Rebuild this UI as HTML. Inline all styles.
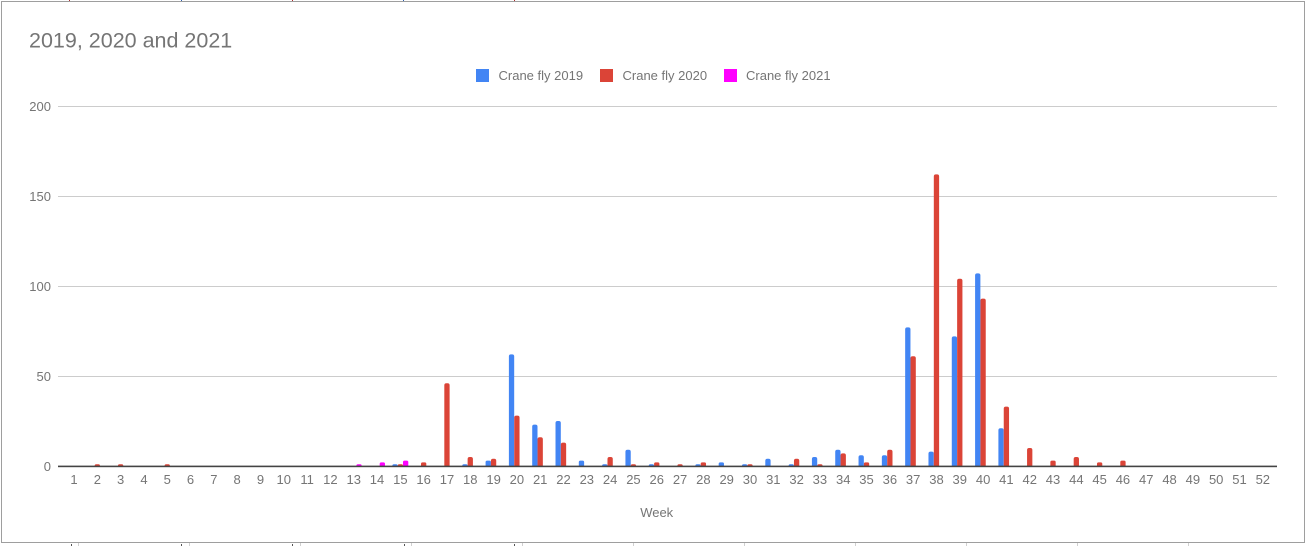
<!DOCTYPE html>
<html>
<head>
<meta charset="utf-8">
<style>
  html, body { margin: 0; padding: 0; background: #ffffff; }
  body { width: 1306px; height: 546px; overflow: hidden; }
  svg { display: block; }
  text { font-family: "Liberation Sans", Arial, sans-serif; }
</style>
</head>
<body>
<svg width="1306" height="546" viewBox="0 0 1306 546" xmlns="http://www.w3.org/2000/svg">
  <defs>
    <clipPath id="plotclip">
      <rect x="0" y="0" width="1306" height="466"/>
    </clipPath>
  </defs>
  <rect x="0" y="0" width="1306" height="546" fill="#ffffff"/>

  <!-- tiny marks at top edge -->
  <g stroke-width="1">
    <line x1="69.5" y1="0" x2="69.5" y2="1.5" stroke="#b03030"/>
    <line x1="181.5" y1="0" x2="181.5" y2="1.5" stroke="#3060b0"/>
    <line x1="292.5" y1="0" x2="292.5" y2="1.5" stroke="#b03030"/>
    <line x1="403.5" y1="0" x2="403.5" y2="1.5" stroke="#3060b0"/>
    <line x1="514.5" y1="0" x2="514.5" y2="1.5" stroke="#b03030"/>
  </g>

  <!-- frame -->
  <rect x="1.5" y="1.5" width="1303" height="541" fill="none" stroke="#9e9e9e" stroke-width="1"/>
  <!-- tiny marks below frame -->
  <g stroke="#d0d0d0" stroke-width="1">
    <line x1="78.5" y1="543" x2="78.5" y2="546"/>
    <line x1="189.5" y1="543" x2="189.5" y2="546"/>
    <line x1="300.5" y1="543" x2="300.5" y2="546"/>
    <line x1="411.5" y1="543" x2="411.5" y2="546"/>
    <line x1="522.5" y1="543" x2="522.5" y2="546"/>
    <line x1="633.5" y1="543" x2="633.5" y2="546"/>
    <line x1="744.5" y1="543" x2="744.5" y2="546"/>
    <line x1="855.5" y1="543" x2="855.5" y2="546"/>
    <line x1="966.5" y1="543" x2="966.5" y2="546"/>
    <line x1="1077.5" y1="543" x2="1077.5" y2="546"/>
    <line x1="1188.5" y1="543" x2="1188.5" y2="546"/>
  </g>
  <g stroke="#555555" stroke-width="1">
    <line x1="71.5" y1="544" x2="71.5" y2="546"/>
    <line x1="181.5" y1="544" x2="181.5" y2="546"/>
    <line x1="292.5" y1="544" x2="292.5" y2="546"/>
    <line x1="404.5" y1="544" x2="404.5" y2="546"/>
    <line x1="514.5" y1="544" x2="514.5" y2="546"/>
  </g>

  <!-- title -->
  <text x="29" y="47.5" font-size="21.5" fill="#757575">2019, 2020 and 2021</text>

  <!-- legend -->
  <rect x="476" y="69" width="13" height="13" fill="#4285f4"/>
  <text x="498.5" y="80" font-size="13" fill="#757575">Crane fly 2019</text>
  <rect x="600" y="69" width="13" height="13" fill="#db4437"/>
  <text x="622.5" y="80" font-size="13" fill="#757575">Crane fly 2020</text>
  <rect x="724" y="69" width="13" height="13" fill="#ff00ff"/>
  <text x="746" y="80" font-size="13" fill="#757575">Crane fly 2021</text>

  <!-- gridlines -->
  <g stroke="#cccccc" stroke-width="1">
    <line x1="58" y1="106.5" x2="1277" y2="106.5"/>
    <line x1="58" y1="196.5" x2="1277" y2="196.5"/>
    <line x1="58" y1="286.5" x2="1277" y2="286.5"/>
    <line x1="58" y1="376.5" x2="1277" y2="376.5"/>
  </g>

  <!-- y labels -->
  <g font-size="13" fill="#757575" text-anchor="end">
    <text x="51" y="111.2">200</text>
    <text x="51" y="201.2">150</text>
    <text x="51" y="291.2">100</text>
    <text x="51" y="381.2">50</text>
    <text x="51" y="471.2">0</text>
  </g>

  <!-- bars -->
  <g clip-path="url(#plotclip)">
    <g fill="#4285f4">
      <rect x="392.34" y="464.2" width="5.3" height="4.8" rx="1.5"/>
      <rect x="462.27" y="464.2" width="5.3" height="4.8" rx="1.5"/>
      <rect x="485.58" y="460.6" width="5.3" height="8.4" rx="1.5"/>
      <rect x="508.89" y="354.4" width="5.3" height="114.6" rx="2"/>
      <rect x="532.20" y="424.6" width="5.3" height="44.4" rx="2"/>
      <rect x="555.51" y="421.0" width="5.3" height="48" rx="2"/>
      <rect x="578.82" y="460.6" width="5.3" height="8.4" rx="1.5"/>
      <rect x="602.13" y="464.2" width="5.3" height="4.8" rx="1.5"/>
      <rect x="625.44" y="449.8" width="5.3" height="19.2" rx="2"/>
      <rect x="648.75" y="464.2" width="5.3" height="4.8" rx="1.5"/>
      <rect x="695.37" y="464.2" width="5.3" height="4.8" rx="1.5"/>
      <rect x="718.68" y="462.4" width="5.3" height="6.6" rx="1.5"/>
      <rect x="741.99" y="464.2" width="5.3" height="4.8" rx="1.5"/>
      <rect x="765.30" y="458.8" width="5.3" height="10.2" rx="2"/>
      <rect x="788.61" y="464.2" width="5.3" height="4.8" rx="1.5"/>
      <rect x="811.92" y="457.0" width="5.3" height="12" rx="2"/>
      <rect x="835.23" y="449.8" width="5.3" height="19.2" rx="2"/>
      <rect x="858.54" y="455.2" width="5.3" height="13.8" rx="2"/>
      <rect x="881.85" y="455.2" width="5.3" height="13.8" rx="2"/>
      <rect x="905.16" y="327.4" width="5.3" height="141.6" rx="2"/>
      <rect x="928.47" y="451.6" width="5.3" height="17.4" rx="2"/>
      <rect x="951.78" y="336.4" width="5.3" height="132.6" rx="2"/>
      <rect x="975.09" y="273.4" width="5.3" height="195.6" rx="2"/>
      <rect x="998.40" y="428.2" width="5.3" height="40.8" rx="2"/>
    </g>
    <g fill="#db4437">
      <rect x="94.66" y="464.2" width="5.3" height="4.8" rx="1.5"/>
      <rect x="117.97" y="464.2" width="5.3" height="4.8" rx="1.5"/>
      <rect x="164.59" y="464.2" width="5.3" height="4.8" rx="1.5"/>
      <rect x="397.69" y="464.2" width="5.3" height="4.8" rx="1.5"/>
      <rect x="421.00" y="462.4" width="5.3" height="6.6" rx="1.5"/>
      <rect x="444.31" y="383.2" width="5.3" height="85.8" rx="2"/>
      <rect x="467.62" y="457.0" width="5.3" height="12" rx="2"/>
      <rect x="490.93" y="458.8" width="5.3" height="10.2" rx="2"/>
      <rect x="514.24" y="415.6" width="5.3" height="53.4" rx="2"/>
      <rect x="537.55" y="437.2" width="5.3" height="31.8" rx="2"/>
      <rect x="560.86" y="442.6" width="5.3" height="26.4" rx="2"/>
      <rect x="607.48" y="457.0" width="5.3" height="12" rx="2"/>
      <rect x="630.79" y="464.2" width="5.3" height="4.8" rx="1.5"/>
      <rect x="654.10" y="462.4" width="5.3" height="6.6" rx="1.5"/>
      <rect x="677.41" y="464.2" width="5.3" height="4.8" rx="1.5"/>
      <rect x="700.72" y="462.4" width="5.3" height="6.6" rx="1.5"/>
      <rect x="747.34" y="464.2" width="5.3" height="4.8" rx="1.5"/>
      <rect x="793.96" y="458.8" width="5.3" height="10.2" rx="2"/>
      <rect x="817.27" y="464.2" width="5.3" height="4.8" rx="1.5"/>
      <rect x="840.58" y="453.4" width="5.3" height="15.6" rx="2"/>
      <rect x="863.89" y="462.4" width="5.3" height="6.6" rx="1.5"/>
      <rect x="887.20" y="449.8" width="5.3" height="19.2" rx="2"/>
      <rect x="910.51" y="356.2" width="5.3" height="112.8" rx="2"/>
      <rect x="933.82" y="174.4" width="5.3" height="294.6" rx="2"/>
      <rect x="957.13" y="278.8" width="5.3" height="190.2" rx="2"/>
      <rect x="980.44" y="298.6" width="5.3" height="170.4" rx="2"/>
      <rect x="1003.75" y="406.6" width="5.3" height="62.4" rx="2"/>
      <rect x="1027.06" y="448.0" width="5.3" height="21" rx="2"/>
      <rect x="1050.37" y="460.6" width="5.3" height="8.4" rx="1.5"/>
      <rect x="1073.68" y="457.0" width="5.3" height="12" rx="2"/>
      <rect x="1096.99" y="462.4" width="5.3" height="6.6" rx="1.5"/>
      <rect x="1120.30" y="460.6" width="5.3" height="8.4" rx="1.5"/>
    </g>
    <g fill="#ff00ff">
      <rect x="356.37" y="464.2" width="5.3" height="4.8" rx="1.5"/>
      <rect x="379.68" y="462.4" width="5.3" height="6.6" rx="1.5"/>
      <rect x="402.99" y="460.6" width="5.3" height="8.4" rx="1.5"/>
    </g>
  </g>

  <!-- baseline axis -->
  <rect x="58" y="465.6" width="1219" height="1.6" fill="#444444"/>

  <!-- x labels -->
  <g font-size="13" fill="#757575" text-anchor="middle">
    <text x="74.00" y="484">1</text>
    <text x="97.31" y="484">2</text>
    <text x="120.62" y="484">3</text>
    <text x="143.93" y="484">4</text>
    <text x="167.24" y="484">5</text>
    <text x="190.55" y="484">6</text>
    <text x="213.86" y="484">7</text>
    <text x="237.17" y="484">8</text>
    <text x="260.48" y="484">9</text>
    <text x="283.79" y="484">10</text>
    <text x="307.10" y="484">11</text>
    <text x="330.41" y="484">12</text>
    <text x="353.72" y="484">13</text>
    <text x="377.03" y="484">14</text>
    <text x="400.34" y="484">15</text>
    <text x="423.65" y="484">16</text>
    <text x="446.96" y="484">17</text>
    <text x="470.27" y="484">18</text>
    <text x="493.58" y="484">19</text>
    <text x="516.89" y="484">20</text>
    <text x="540.20" y="484">21</text>
    <text x="563.51" y="484">22</text>
    <text x="586.82" y="484">23</text>
    <text x="610.13" y="484">24</text>
    <text x="633.44" y="484">25</text>
    <text x="656.75" y="484">26</text>
    <text x="680.06" y="484">27</text>
    <text x="703.37" y="484">28</text>
    <text x="726.68" y="484">29</text>
    <text x="749.99" y="484">30</text>
    <text x="773.30" y="484">31</text>
    <text x="796.61" y="484">32</text>
    <text x="819.92" y="484">33</text>
    <text x="843.23" y="484">34</text>
    <text x="866.54" y="484">35</text>
    <text x="889.85" y="484">36</text>
    <text x="913.16" y="484">37</text>
    <text x="936.47" y="484">38</text>
    <text x="959.78" y="484">39</text>
    <text x="983.09" y="484">40</text>
    <text x="1006.40" y="484">41</text>
    <text x="1029.71" y="484">42</text>
    <text x="1053.02" y="484">43</text>
    <text x="1076.33" y="484">44</text>
    <text x="1099.64" y="484">45</text>
    <text x="1122.95" y="484">46</text>
    <text x="1146.26" y="484">47</text>
    <text x="1169.57" y="484">48</text>
    <text x="1192.88" y="484">49</text>
    <text x="1216.19" y="484">50</text>
    <text x="1239.50" y="484">51</text>
    <text x="1262.81" y="484">52</text>
  </g>

  <!-- x axis title -->
  <text x="656.7" y="517" font-size="13" fill="#757575" text-anchor="middle">Week</text>
</svg>
</body>
</html>
